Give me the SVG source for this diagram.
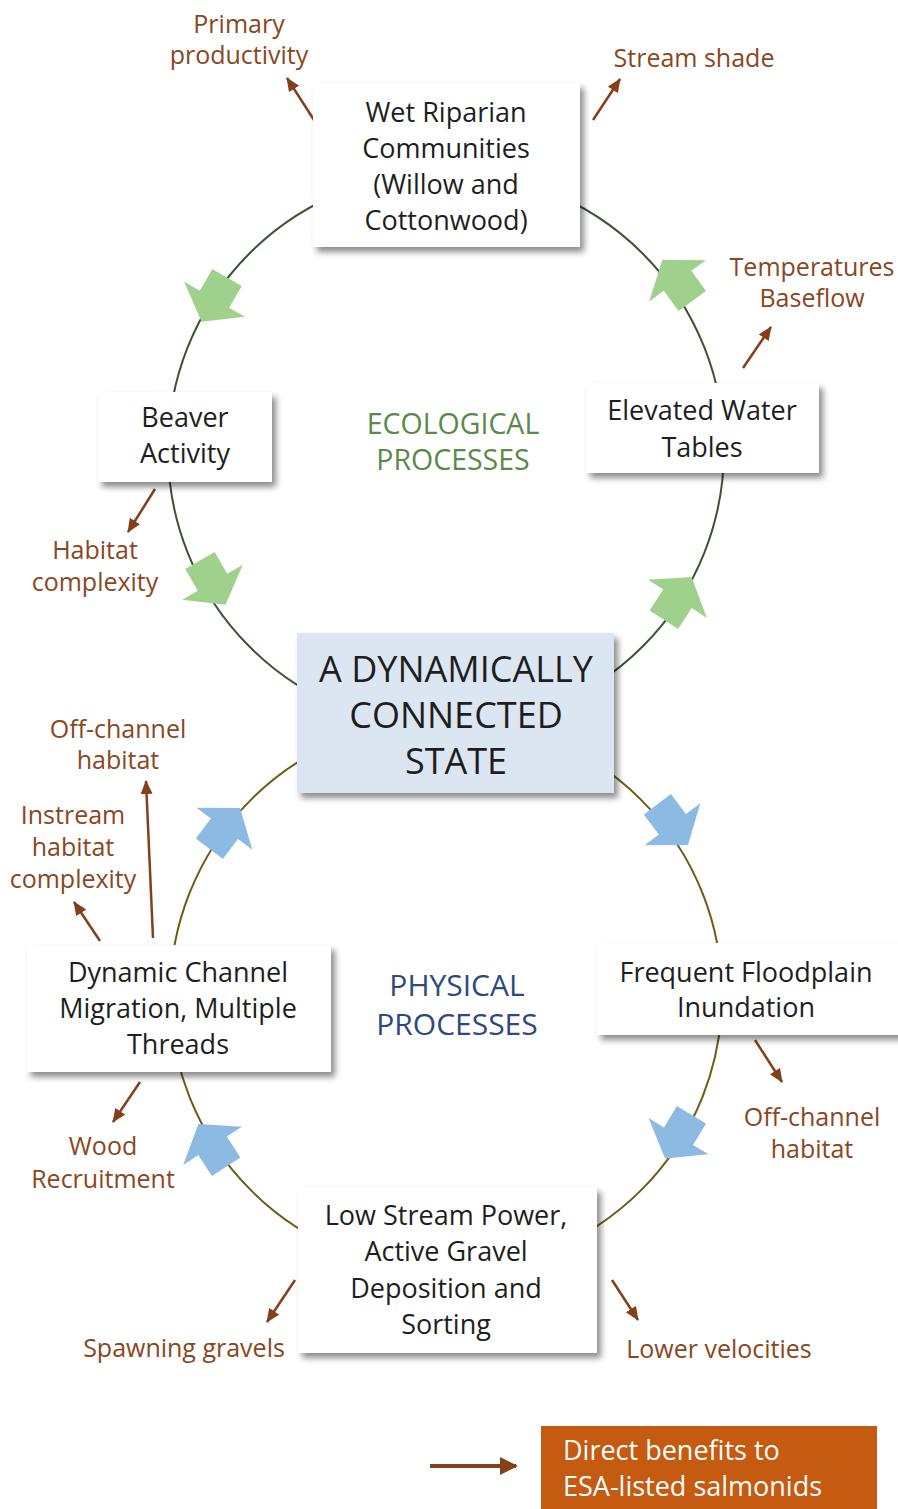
<svg xmlns="http://www.w3.org/2000/svg" width="898" height="1509" viewBox="0 0 898 1509">
<style>
.node{fill:#ffffff;filter:url(#sh)}
.nt{font-family:"Open Sans","Noto Sans",sans-serif;font-size:27px;fill:#1e1e1e;text-anchor:middle}
.lab{font-family:"Open Sans","Noto Sans",sans-serif;font-size:25px;fill:#8a4720;text-anchor:middle}
.ben{stroke:#84401a;stroke-width:2.5;fill:none;marker-end:url(#bh)}
.eco{fill:none;stroke:#3a5530;stroke-width:2}
.phy{fill:none;stroke:#6e5c12;stroke-width:2}
.ga{fill:#9fd08c}
.ba{fill:#8dbae3}
</style>
<defs>
<filter id="sh" x="-10%" y="-10%" width="125%" height="130%">
<feDropShadow dx="4" dy="5" stdDeviation="3" flood-color="#000" flood-opacity="0.45"/>
</filter>
<marker id="bh" markerUnits="userSpaceOnUse" markerWidth="16" markerHeight="14" refX="13" refY="6" orient="auto">
<path d="M0,0 L14,6 L0,12 z" fill="#84401a"/>
</marker>
<marker id="lh" markerUnits="userSpaceOnUse" markerWidth="20" markerHeight="20" refX="16" refY="9" orient="auto">
<path d="M0,0 L18,9 L0,18 z" fill="#84401a"/>
</marker>
<polygon id="blk" points="-26,-17 -1,-17 -1,-35 25,0 -1,35 -1,17 -26,17"/>
</defs>
<rect width="898" height="1509" fill="#ffffff"/>

<g id="connectors">
<circle class="eco" cx="446" cy="450" r="278"/>
<circle class="phy" cx="446" cy="995" r="276"/>
<use href="#blk" class="ga" transform="translate(214,300) rotate(120)"/>
<use href="#blk" class="ga" transform="translate(213,583) rotate(60)"/>
<use href="#blk" class="ga" transform="translate(678,598) rotate(-57)"/>
<use href="#blk" class="ga" transform="translate(677,280) rotate(-126)"/>
<use href="#blk" class="ba" transform="translate(225,828) rotate(-53)"/>
<use href="#blk" class="ba" transform="translate(673,825) rotate(53)"/>
<use href="#blk" class="ba" transform="translate(678,1137) rotate(121)"/>
<use href="#blk" class="ba" transform="translate(212,1145) rotate(-123)"/>
<line class="ben" x1="314" y1="120" x2="287" y2="78"/>
<line class="ben" x1="593" y1="120" x2="620" y2="79"/>
<line class="ben" x1="743" y1="368" x2="771" y2="327"/>
<line class="ben" x1="155" y1="489" x2="128" y2="532"/>
<line class="ben" x1="153" y1="938" x2="146" y2="781"/>
<line class="ben" x1="100" y1="941" x2="74" y2="902"/>
<line class="ben" x1="140" y1="1082" x2="113" y2="1122"/>
<line class="ben" x1="755" y1="1040" x2="782" y2="1082"/>
<line class="ben" x1="295" y1="1280" x2="267" y2="1322"/>
<line class="ben" x1="612" y1="1280" x2="638" y2="1320"/>
</g>

<g id="n-wet">
<rect class="node" x="313" y="83" width="267" height="164"/>
<text class="nt" x="446" y="122">Wet Riparian</text>
<text class="nt" x="446" y="158">Communities</text>
<text class="nt" x="446" y="194">(Willow and</text>
<text class="nt" x="446" y="230">Cottonwood)</text>
</g>
<g id="n-beaver">
<rect class="node" x="98" y="392" width="174" height="90"/>
<text class="nt" x="185" y="427">Beaver</text>
<text class="nt" x="185" y="463">Activity</text>
</g>
<g id="n-elevated">
<rect class="node" x="586" y="383" width="233" height="90"/>
<text class="nt" x="702" y="420">Elevated Water</text>
<text class="nt" x="702" y="457">Tables</text>
</g>
<g id="n-center">
<rect x="297" y="633" width="317" height="160" fill="#dce6f2" filter="url(#sh)"/>
<text class="nt" x="456" y="682" style="font-size:36px">A DYNAMICALLY</text>
<text class="nt" x="456" y="728" style="font-size:36px">CONNECTED</text>
<text class="nt" x="456" y="774" style="font-size:36px">STATE</text>
</g>
<g id="n-dynamic">
<rect class="node" x="27" y="945" width="304" height="127"/>
<text class="nt" x="178" y="982">Dynamic Channel</text>
<text class="nt" x="178" y="1018">Migration, Multiple</text>
<text class="nt" x="178" y="1054">Threads</text>
</g>
<g id="n-frequent">
<rect class="node" x="597" y="943" width="310" height="92"/>
<text class="nt" x="746" y="982">Frequent Floodplain</text>
<text class="nt" x="746" y="1017">Inundation</text>
</g>
<g id="n-low">
<rect class="node" x="298" y="1187" width="299" height="166"/>
<text class="nt" x="446" y="1225">Low Stream Power,</text>
<text class="nt" x="446" y="1261">Active Gravel</text>
<text class="nt" x="446" y="1298">Deposition and</text>
<text class="nt" x="446" y="1334">Sorting</text>
</g>

<g id="section-labels" font-family="'Open Sans','Noto Sans',sans-serif" text-anchor="middle">
<text x="453" y="434" font-size="28.5" fill="#5a8a48">ECOLOGICAL</text>
<text x="453" y="470" font-size="28.5" fill="#5a8a48">PROCESSES</text>
<text x="457" y="996" font-size="30" fill="#2e4a7c">PHYSICAL</text>
<text x="457" y="1035" font-size="30" fill="#2e4a7c">PROCESSES</text>
</g>

<g id="benefit-labels">
<text class="lab" x="239" y="33">Primary</text>
<text class="lab" x="239" y="64">productivity</text>
<text class="lab" x="694" y="67">Stream shade</text>
<text class="lab" x="812" y="276">Temperatures</text>
<text class="lab" x="812" y="307">Baseflow</text>
<text class="lab" x="95" y="559">Habitat</text>
<text class="lab" x="95" y="591">complexity</text>
<text class="lab" x="118" y="738">Off-channel</text>
<text class="lab" x="118" y="769">habitat</text>
<text class="lab" x="73" y="824">Instream</text>
<text class="lab" x="73" y="856">habitat</text>
<text class="lab" x="73" y="888">complexity</text>
<text class="lab" x="103" y="1155">Wood</text>
<text class="lab" x="103" y="1188">Recruitment</text>
<text class="lab" x="812" y="1126">Off-channel</text>
<text class="lab" x="812" y="1158">habitat</text>
<text class="lab" x="184" y="1357">Spawning gravels</text>
<text class="lab" x="719" y="1358">Lower velocities</text>
</g>

<g id="legend">
<line x1="430" y1="1466" x2="516" y2="1466" stroke="#84401a" stroke-width="4" marker-end="url(#lh)"/>
<rect x="541" y="1426" width="336" height="90" fill="#c55a11"/>
<text x="563" y="1460" font-family="'Open Sans','Noto Sans',sans-serif" font-size="27" fill="#ffffff">Direct benefits to</text>
<text x="563" y="1496" font-family="'Open Sans','Noto Sans',sans-serif" font-size="27" fill="#ffffff">ESA-listed salmonids</text>
</g>
</svg>
